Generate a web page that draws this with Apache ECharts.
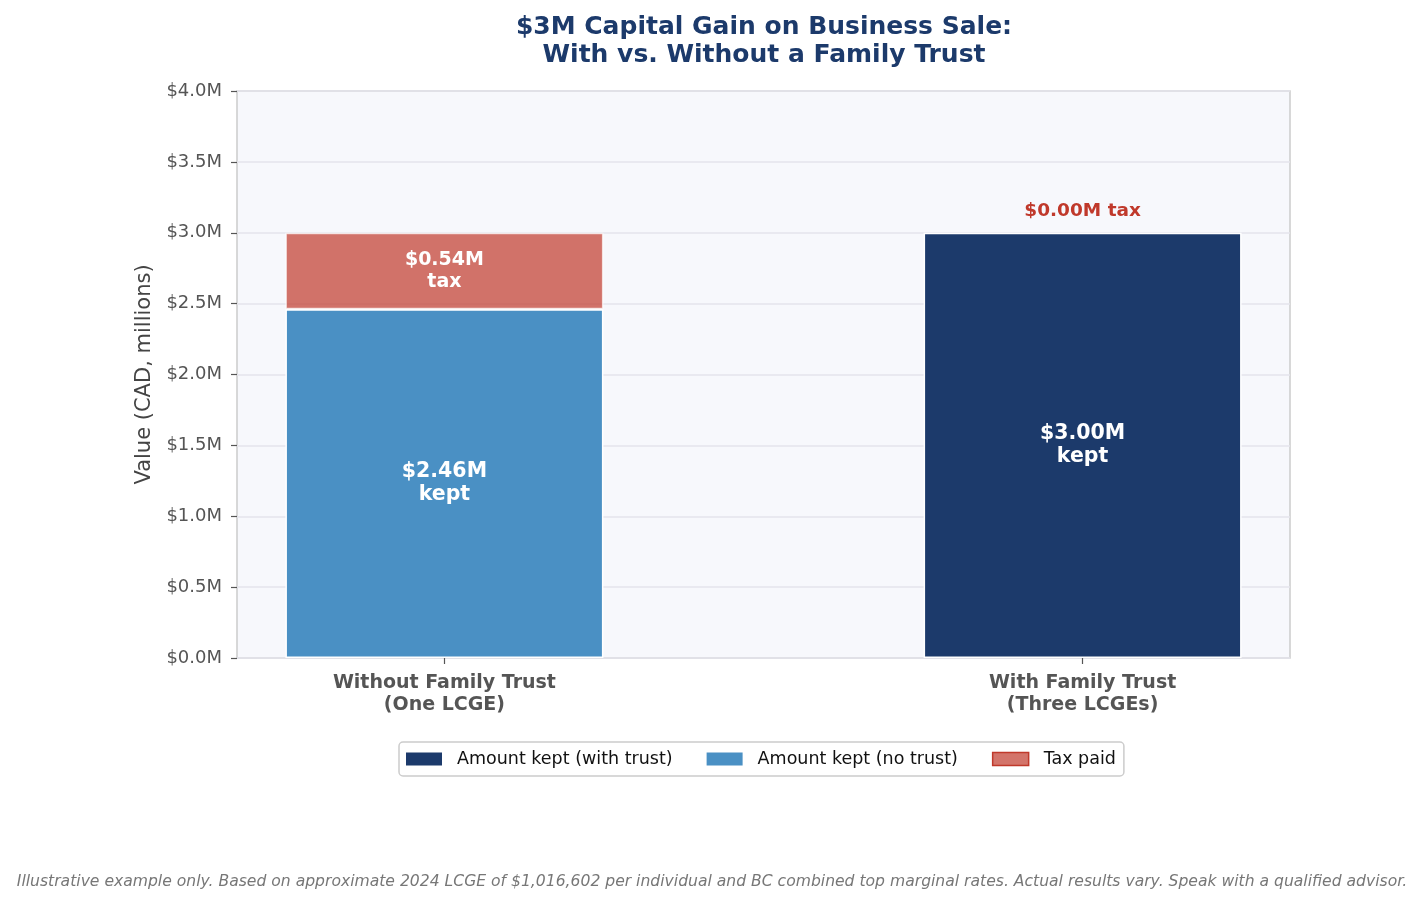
<!DOCTYPE html>
<html lang="en" style="height: 100%">
<head>
  <meta charset="utf-8">
</head>
<body style="height: 100%; margin: 0; background: #ffffff">
  <div id="container" style="width: 1424px; height: 904px"></div>

  <script type="text/javascript" src="https://cdn.jsdelivr.net/npm/echarts@6/dist/echarts.min.js"></script>
  <script type="text/javascript">
    // scenario positions on the x axis and their labels
    var scenarioX = [0, 1];
    var scenarioLabels = ['Without Family Trust\n(One LCGE)', 'With Family Trust\n(Three LCGEs)'];

    // values in millions of CAD, one entry per scenario
    var keptNoTrust = [2.46, 0];
    var keptWithTrust = [0, 3.00];
    var taxPaid = [0.54, 0];

    var yTicks = [0, 0.5, 1, 1.5, 2, 2.5, 3, 3.5, 4];

    var FONT = 'DejaVu Sans';
    var NAVY = '#1c3a6b';
    var BLUE = '#4a90c4';
    var RED = '#c0392b';

    var dom = document.getElementById('container');
    var myChart = echarts.init(dom, null, { renderer: 'canvas' });

    // value first so that the stack is computed on the y values
    function pairs(vals) {
      return scenarioX.map(function (x, i) {
        var v = vals[i];
        var item = { value: [v, x] };
        if (v === 0) {
          item.itemStyle = { borderWidth: 0 };
        }
        return item;
      });
    }

    var insideLabel = {
      show: true,
      position: 'inside',
      color: '#ffffff',
      fontFamily: FONT,
      fontWeight: 'bold',
      fontSize: 20.5,
      lineHeight: 23
    };

    var noTrustData = pairs(keptNoTrust);
    noTrustData[0].label = Object.assign({}, insideLabel, {
      formatter: function (p) { return '$' + p.value[0].toFixed(2) + 'M\nkept'; }
    });

    var withTrustData = pairs(keptWithTrust);
    withTrustData[1].label = Object.assign({}, insideLabel, {
      formatter: function (p) { return '$' + p.value[0].toFixed(2) + 'M\nkept'; }
    });

    var taxData = pairs(taxPaid);
    taxData[0].label = Object.assign({}, insideLabel, {
      fontSize: 19,
      lineHeight: 22,
      formatter: function (p) { return '$' + p.value[0].toFixed(2) + 'M\ntax'; }
    });
    taxData[1].label = {
      show: true,
      position: 'top',
      distance: 12,
      color: RED,
      fontFamily: FONT,
      fontWeight: 'bold',
      fontSize: 18.5,
      formatter: function (p) { return '$' + p.value[0].toFixed(2) + 'M tax'; }
    };

    var option = {
      backgroundColor: '#ffffff',
      animation: false,
      title: {
        text: '$3M Capital Gain on Business Sale:\nWith vs. Without a Family Trust',
        left: 759,
        textAlign: 'center',
        top: 8,
        textStyle: {
          color: NAVY,
          fontFamily: FONT,
          fontWeight: 'bold',
          fontSize: 25,
          lineHeight: 28
        }
      },
      graphic: [{
        type: 'text',
        left: 'center',
        top: 874,
        style: {
          text: 'Illustrative example only. Based on approximate 2024 LCGE of $1,016,602 per individual and BC combined top marginal rates. Actual results vary. Speak with a qualified advisor.',
          fill: '#777777',
          font: 'italic 15.6px "DejaVu Sans"'
        }
      }],
      legend: {
        data: [
          { name: 'Amount kept (with trust)' },
          { name: 'Amount kept (no trust)' },
          { name: 'Tax paid', itemStyle: { borderColor: RED, borderWidth: 1.5 } }
        ],
        left: 399,
        top: 742,
        itemWidth: 36,
        itemHeight: 13,
        itemGap: 34,
        padding: [8, 8, 8, 7],
        borderColor: '#cccccc',
        borderWidth: 1.5,
        borderRadius: 4,
        icon: 'rect',
        itemStyle: { borderWidth: 0 },
        textStyle: { fontFamily: FONT, fontSize: 17.5, color: '#111111', padding: [0, 0, 0, 10] }
      },
      grid: {
        left: 237,
        right: 134,
        top: 91,
        bottom: 246,
        show: true,
        backgroundColor: '#f7f8fc',
        borderColor: '#cccccc',
        borderWidth: 1.5
      },
      xAxis: {
        type: 'value',
        min: -0.325,
        max: 1.325,
        splitLine: { show: false },
        axisLine: { show: false, onZero: false },
        axisTick: {
          show: true,
          length: 6,
          customValues: scenarioX,
          lineStyle: { color: '#555555', width: 1.2 }
        },
        axisLabel: {
          customValues: scenarioX,
          margin: 14,
          color: '#555555',
          fontFamily: FONT,
          fontWeight: 'bold',
          fontSize: 19,
          lineHeight: 22,
          formatter: function (v) {
            var i = scenarioX.indexOf(Math.round(v));
            return i >= 0 ? scenarioLabels[i] : '';
          }
        }
      },
      yAxis: {
        type: 'value',
        min: 0,
        max: 4,
        interval: 0.5,
        name: 'Value (CAD, millions)',
        nameLocation: 'middle',
        nameGap: 80,
        nameTextStyle: { color: '#444444', fontFamily: FONT, fontSize: 21 },
        axisLine: { show: false, onZero: false },
        axisTick: { show: true, length: 6, lineStyle: { color: '#555555', width: 1.2 } },
        axisLabel: {
          color: '#555555',
          fontFamily: FONT,
          fontSize: 18,
          margin: 15,
          formatter: function (v) { return '$' + v.toFixed(1) + 'M'; }
        },
        splitLine: { show: true, lineStyle: { color: '#e4e4ec', width: 1.5 } }
      },
      series: [
        {
          name: 'Amount kept (no trust)',
          type: 'bar',
          stack: 'total',
          encode: { x: 1, y: 0 },
          barWidth: 318,
          itemStyle: { color: BLUE, borderColor: '#ffffff', borderWidth: 1.5 },
          data: noTrustData
        },
        {
          name: 'Amount kept (with trust)',
          type: 'bar',
          stack: 'total',
          encode: { x: 1, y: 0 },
          barWidth: 318,
          itemStyle: { color: NAVY, borderColor: '#ffffff', borderWidth: 1.5 },
          data: withTrustData
        },
        {
          name: 'Tax paid',
          type: 'bar',
          stack: 'total',
          encode: { x: 1, y: 0 },
          barWidth: 318,
          itemStyle: { color: 'rgba(192,57,43,0.7)', borderColor: 'rgba(255,255,255,0.7)', borderWidth: 1.5 },
          data: taxData
        }
      ]
    };

    myChart.setOption(option);
    window.addEventListener('resize', myChart.resize);
  </script>
</body>
</html>
